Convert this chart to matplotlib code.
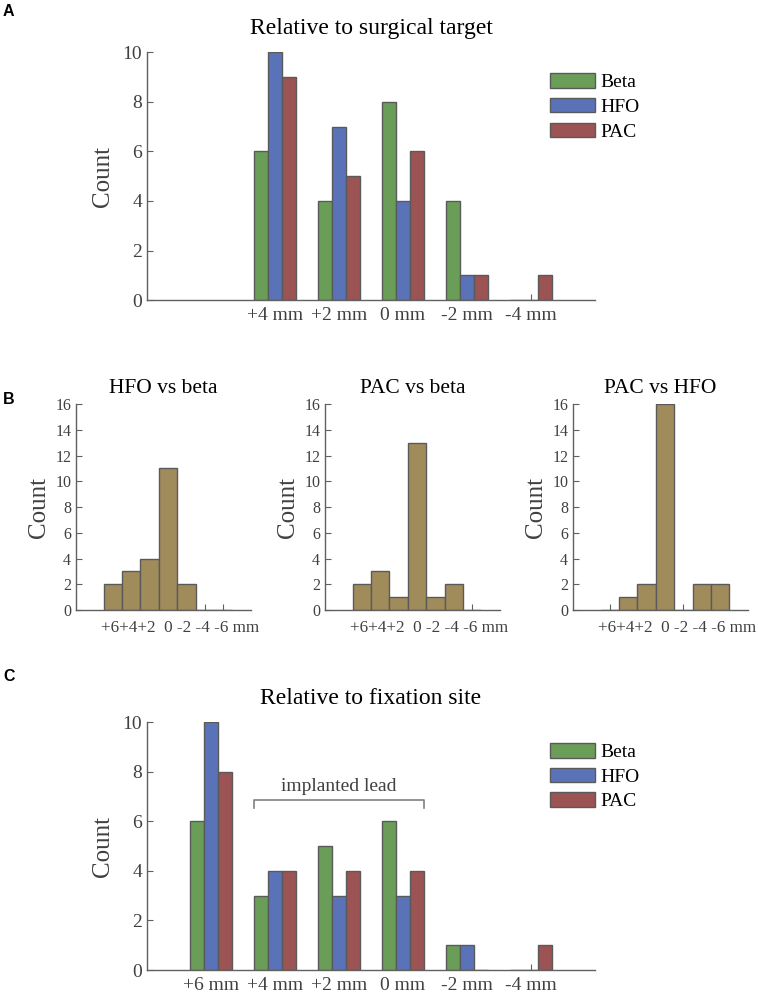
import matplotlib
matplotlib.use('Agg')
import matplotlib.pyplot as plt
import numpy as np

plt.rcParams['font.family'] = ['Liberation Serif', 'DejaVu Serif']

## data
target_labels = ['+4 mm', '+2 mm', '0 mm', '-2 mm', '-4 mm']
beta_target = [6, 4, 8, 4, 0]
hfo_target = [10, 7, 4, 1, 0]
pac_target = [9, 5, 6, 1, 1]

fix_labels = ['+6 mm', '+4 mm', '+2 mm', '0 mm', '-2 mm', '-4 mm']
beta_fix = [6, 3, 5, 6, 1, 0]
hfo_fix = [10, 4, 3, 3, 1, 0]
pac_fix = [8, 4, 4, 4, 0, 1]

diff_bins = [6, 4, 2, 0, -2, -4, -6]
hfo_vs_beta = [2, 3, 4, 11, 2, 0, 0]
pac_vs_beta = [2, 3, 1, 13, 1, 2, 0]
pac_vs_hfo = [0, 1, 2, 16, 0, 2, 2]
diff_titles = ['HFO vs beta', 'PAC vs beta', 'PAC vs HFO']
diff_ticktext = '+6+4+2  0 -2 -4 -6 mm'

c_beta = '#6a9e58'
c_hfo = '#5a72b8'
c_pac = '#9b5353'
c_tan = '#a08b5a'
edge = '#5a5a5a'
gray = '#404040'


def style_axes(ax) :
    for s in ['top', 'right'] :
        ax.spines[s].set_visible(False)
    for s in ['left', 'bottom'] :
        ax.spines[s].set_color('#606060')
        ax.spines[s].set_linewidth(1.0)
    ax.tick_params(direction='in', length=4, color='#606060', labelcolor=gray)
    ax.set_axisbelow(True)


def grouped(ax, xs, labels, beta, hfo, pac, title) :
    w = 0.22
    xs = np.array(xs)
    ax.bar(xs - w, beta, w, color=c_beta, edgecolor=edge, linewidth=1, label='Beta')
    ax.bar(xs, hfo, w, color=c_hfo, edgecolor=edge, linewidth=1, label='HFO')
    ax.bar(xs + w, pac, w, color=c_pac, edgecolor=edge, linewidth=1, label='PAC')
    style_axes(ax)
    ax.set_xlim(0, 7)
    ax.set_ylim(0, 10)
    ax.set_yticks([0, 2, 4, 6, 8, 10])
    ax.set_xticks(xs)
    ax.set_xticklabels(labels)
    ax.tick_params(labelsize=14)
    ax.tick_params(axis='x', pad=5)
    ax.set_ylabel('Count', fontsize=18, color=gray, labelpad=6)
    ax.set_title(title, fontsize=17, pad=13)
    ax.legend(loc='upper left', bbox_to_anchor=(0.8996, 0.915), frameon=False,
              fontsize=14, handlelength=2.3, handleheight=0.77,
              labelspacing=0.34, handletextpad=0.3, borderpad=0, borderaxespad=0)


fig = plt.figure(figsize=(7.58, 9.94), dpi=100)

axA = fig.add_axes([0.194, 0.698, 0.591, 0.2495])
grouped(axA, [2, 3, 4, 5, 6], target_labels, beta_target, hfo_target, pac_target,
        'Relative to surgical target')

axC = fig.add_axes([0.194, 0.0241, 0.591, 0.2495])
grouped(axC, [1, 2, 3, 4, 5, 6], fix_labels, beta_fix, hfo_fix, pac_fix,
        'Relative to fixation site')
# implanted lead bracket
axC.plot([1.67, 1.67, 4.33, 4.33], [6.53, 6.85, 6.85, 6.53], color='#808080', lw=1.2)
axC.text(3.0, 7.05, 'implanted lead', ha='center', va='bottom', fontsize=14, color=gray)

b_lefts = [0.1003, 0.4288, 0.756]
for left, vals, title in zip(b_lefts, [hfo_vs_beta, pac_vs_beta, pac_vs_hfo], diff_titles) :
    ax = fig.add_axes([left, 0.3863, 0.2305, 0.2072])
    ax.bar(diff_bins, vals, 2, color=c_tan, edgecolor=edge, linewidth=1)
    style_axes(ax)
    ax.set_xlim(10, -9)
    ax.set_ylim(0, 16)
    ax.set_yticks(range(0, 17, 2))
    ax.set_xticks(diff_bins)
    ax.set_xticklabels([])
    ax.tick_params(labelsize=11.5)
    ax.set_ylabel('Count', fontsize=18, color=gray, labelpad=4)
    ax.set_title(title, fontsize=15.5, pad=8)
    ax.text(0.144, -0.05, diff_ticktext, transform=ax.transAxes, ha='left', va='top',
            fontsize=12.3, color=gray)

for lab, y in zip(['A', 'B', 'C'], [0.996, 0.6056, 0.327]) :
    fig.text(0.004, y, lab, fontsize=11.5, fontweight='bold', family='Liberation Sans',
             va='top', ha='left')

plt.savefig('out.png', dpi=100)
